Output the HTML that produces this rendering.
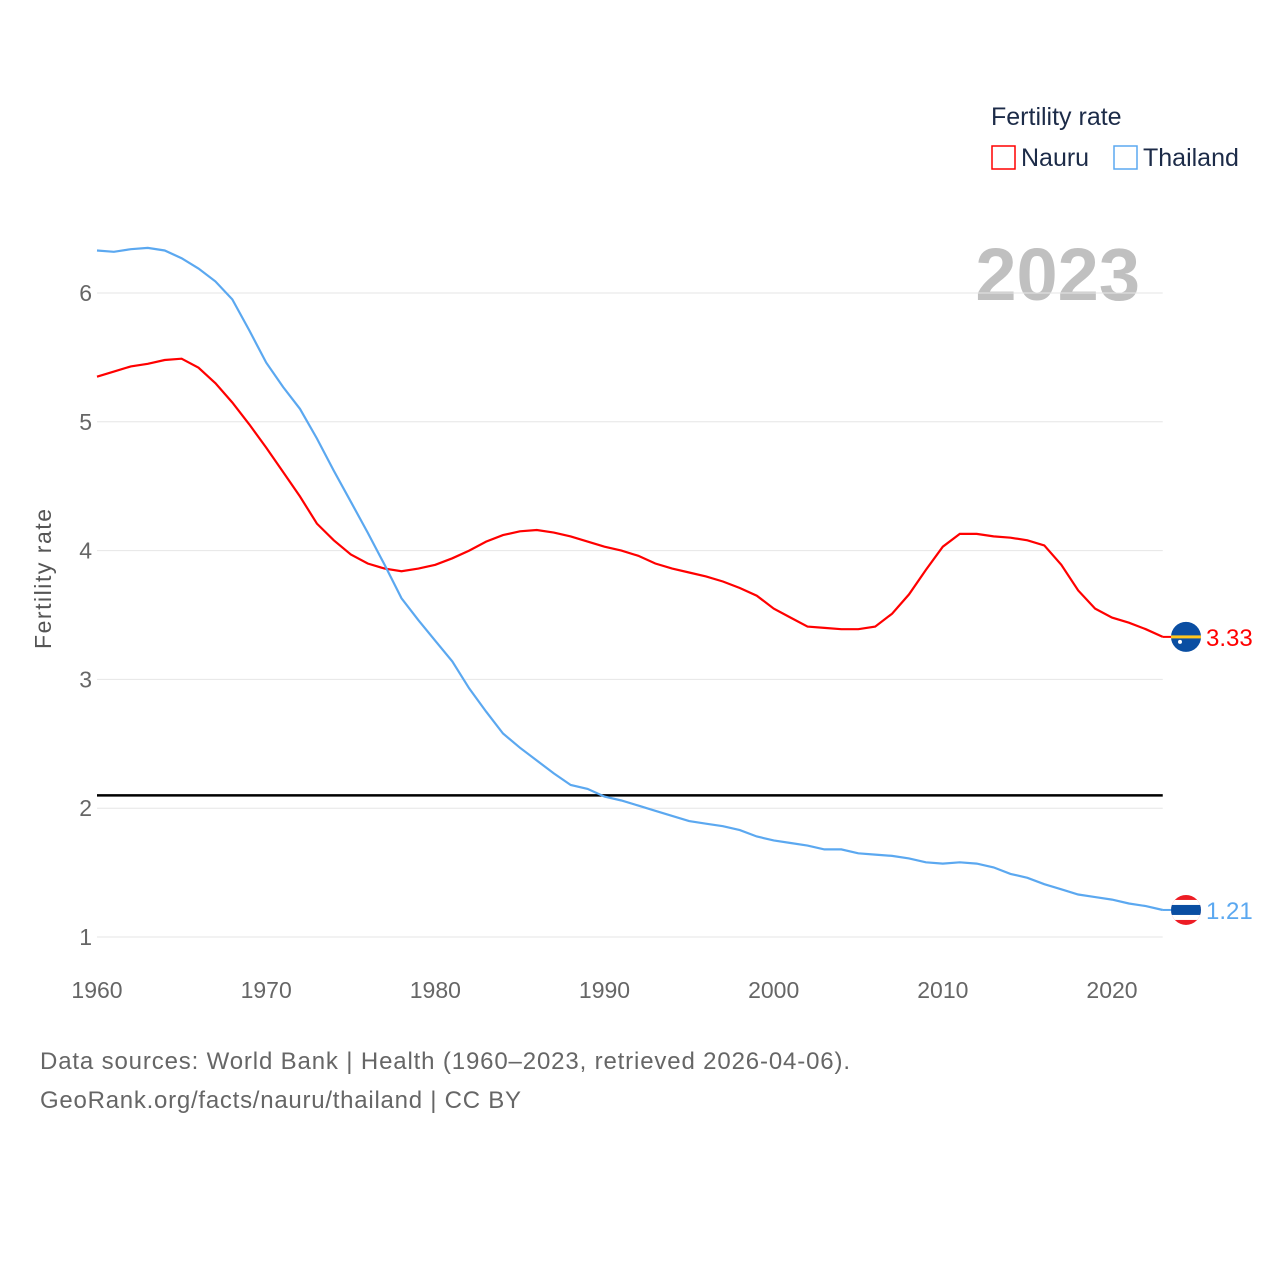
<!DOCTYPE html>
<html><head><meta charset="utf-8"><style>
body{margin:0;background:#fff;font-family:"Liberation Sans",sans-serif}
svg text{font-family:"Liberation Sans",sans-serif}
</style></head><body>
<svg id="chart" width="1280" height="1280" viewBox="0 0 1280 1280">
<g>
<text x="991" y="125" font-size="25" fill="#1c2b48">Fertility rate</text>
<rect x="992" y="146" width="23" height="23" fill="none" stroke="#ff0000" stroke-width="1.5"/>
<text x="1021" y="166" font-size="25" fill="#1c2b48">Nauru</text>
<rect x="1114" y="146" width="23" height="23" fill="none" stroke="#5ba8f0" stroke-width="1.5"/>
<text x="1143" y="166" font-size="25" fill="#1c2b48">Thailand</text>
</g>
<text x="1140" y="300" font-size="74" font-weight="bold" fill="#c0c0c0" text-anchor="end">2023</text>
<g id="grid"></g>
<g id="series"></g>
<text transform="translate(51,579) rotate(-90)" font-size="23" fill="#555" text-anchor="middle" textLength="140">Fertility rate</text>
<text x="40" y="1069" font-size="24" fill="#666" textLength="810">Data sources: World Bank | Health (1960–2023, retrieved 2026-04-06).</text>
<text x="40" y="1108" font-size="24" fill="#666" textLength="481">GeoRank.org/facts/nauru/thailand | CC BY</text>
</svg>
<script>
const years=[];for(let y=1960;y<=2023;y++)years.push(y);
const nauru=[5.35,5.39,5.43,5.45,5.48,5.49,5.42,5.30,5.15,4.98,4.80,4.61,4.42,4.21,4.08,3.97,3.90,3.86,3.84,3.86,3.89,3.94,4.00,4.07,4.12,4.15,4.16,4.14,4.11,4.07,4.03,4.00,3.96,3.90,3.86,3.83,3.80,3.76,3.71,3.65,3.55,3.48,3.41,3.40,3.39,3.39,3.41,3.51,3.66,3.85,4.03,4.13,4.13,4.11,4.10,4.08,4.04,3.89,3.69,3.55,3.48,3.44,3.39,3.33];
const thailand=[6.33,6.32,6.34,6.35,6.33,6.27,6.19,6.09,5.95,5.71,5.46,5.27,5.10,4.87,4.62,4.38,4.14,3.89,3.63,3.46,3.30,3.14,2.93,2.75,2.58,2.47,2.37,2.27,2.18,2.15,2.09,2.06,2.02,1.98,1.94,1.90,1.88,1.86,1.83,1.78,1.75,1.73,1.71,1.68,1.68,1.65,1.64,1.63,1.61,1.58,1.57,1.58,1.57,1.54,1.49,1.46,1.41,1.37,1.33,1.31,1.29,1.26,1.24,1.21];
const yTicks=[1,2,3,4,5,6];
const xTicks=[1960,1970,1980,1990,2000,2010,2020];
const refValue=2.1;
const NS="http://www.w3.org/2000/svg";
const X=y=>97+(y-1960)*(1015/60);
const Y=v=>937-(v-1)*128.8;
const x0=97,x1=X(2023);
function mk(t,a,p){const e=document.createElementNS(NS,t);for(const k in a)e.setAttribute(k,a[k]);p.appendChild(e);return e;}
const grid=document.getElementById('grid'),ser=document.getElementById('series');
yTicks.forEach(v=>{
 const l=mk('line',{x1:x0,x2:x1,y1:Y(v),y2:Y(v),stroke:'#e6e6e6','stroke-width':1},grid);
 
 
 const t=mk('text',{x:92,y:Y(v)+8,'font-size':23,fill:'#666','text-anchor':'end'},grid);t.textContent=v;
 
 
});
xTicks.forEach(y=>{
 const t=mk('text',{x:X(y),y:998,'font-size':23,fill:'#666','text-anchor':'middle'},grid);t.textContent=y;
 
 
});
const ref=mk('line',{x1:x0,x2:x1,y1:Y(refValue),y2:Y(refValue),stroke:'#000','stroke-width':2.5},ser);


function line(d,c,name){
 const p=mk('path',{d:d.map((v,i)=>(i?'L':'M')+X(years[i]).toFixed(1)+','+Y(v).toFixed(1)).join(''),fill:'none',stroke:c,'stroke-width':2.2},ser);
 
 
 const last=d[d.length-1];
 mk('line',{x1:x1,x2:1176,y1:Y(last),y2:Y(last),stroke:c,'stroke-width':2},ser);
 const t=mk('text',{x:1206,y:Y(last)+9,'font-size':24,fill:c},ser);t.textContent=last.toFixed(2);
 
 
 return Y(last);
}
const yn=line(nauru,'#ff0000','nauru');
const yt=line(thailand,'#5ba8f0','thailand');
const fn=mk('g',{},ser);


mk('circle',{cx:1186,cy:yn,r:15,fill:'#0a4ea2'},fn);
mk('rect',{x:1171,y:yn-1.5,width:30,height:3,fill:'#ffc61e'},fn);
mk('circle',{cx:1180,cy:yn+5,r:2,fill:'#fff'},fn);
const ft=mk('g',{},ser);


const cp=mk('clipPath',{id:'thc'},ft);mk('circle',{cx:1186,cy:yt,r:15},cp);
const g=mk('g',{'clip-path':'url(#thc)'},ft);
mk('rect',{x:1170,y:yt-15,width:32,height:30,fill:'#ed1c24'},g);
mk('rect',{x:1170,y:yt-10,width:32,height:20,fill:'#fff'},g);
mk('rect',{x:1170,y:yt-5,width:32,height:10,fill:'#0a4ea2'},g);
</script>
</body></html>
